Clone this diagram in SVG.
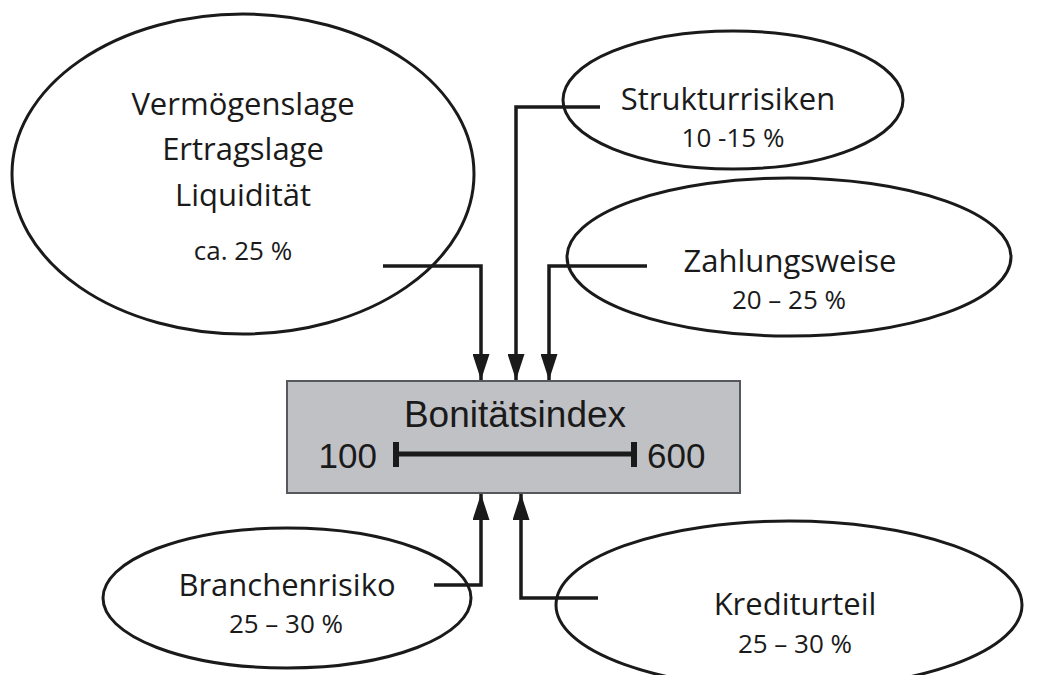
<svg xmlns="http://www.w3.org/2000/svg" width="1040" height="675" viewBox="0 0 1040 675">
<defs>
<marker id="arr" viewBox="0 0 26 17" refX="26" refY="8.5" markerWidth="26" markerHeight="17" markerUnits="userSpaceOnUse" orient="auto">
<path d="M0,0 L26,8.5 L0,17 Z" fill="#1a1a1a"/>
</marker>
<style>
.ell{fill:#fff;stroke:#1a1a1a;stroke-width:3}
.t{font-family:"Open Sans","Liberation Sans",sans-serif;fill:#1a1a1a;text-anchor:middle}
.big{font-size:31px}
.sm{font-size:26px}
.con{fill:none;stroke:#1a1a1a;stroke-width:3.5}
.box{fill:#c0c1c5;stroke:#55585c;stroke-width:2}
.bt{font-family:"Liberation Sans",Arial,sans-serif;fill:#1a1a1a}
</style>
</defs>
<rect width="1040" height="675" fill="#fff"/>
<g id="node-vermoegen">
<ellipse class="ell" cx="243" cy="174" rx="231" ry="160"/>
<text class="t big" x="243" y="115">Vermögenslage</text>
<text class="t big" x="243" y="160">Ertragslage</text>
<text class="t big" x="243" y="206">Liquidität</text>
<text class="t sm" x="243" y="260">ca. 25 %</text>
</g>
<g id="node-struktur">
<ellipse class="ell" cx="733" cy="100" rx="170" ry="69"/>
<text class="t big" x="728" y="110">Strukturrisiken</text>
<text class="t sm" x="733" y="147">10 -15 %</text>
</g>
<g id="node-zahlung">
<ellipse class="ell" cx="789" cy="257" rx="222" ry="79"/>
<text class="t big" x="790" y="272">Zahlungsweise</text>
<text class="t sm" x="789" y="309">20 – 25 %</text>
</g>
<g id="node-branche">
<ellipse class="ell" cx="287" cy="598" rx="184" ry="70"/>
<text class="t big" x="287" y="596">Branchenrisiko</text>
<text class="t sm" x="286" y="633">25 – 30 %</text>
</g>
<g id="node-kredit">
<ellipse class="ell" cx="789" cy="605" rx="233" ry="84"/>
<text class="t big" x="795" y="615">Krediturteil</text>
<text class="t sm" x="795" y="653">25 – 30 %</text>
</g>
<g id="node-index">
<rect class="box" x="287" y="381" width="453" height="112"/>
<text class="bt" x="515" y="427" font-size="37" text-anchor="middle">Bonitätsindex</text>
<text class="bt" x="377" y="468" font-size="35" text-anchor="end">100</text>
<text class="bt" x="647" y="468" font-size="35">600</text>
<line x1="396" y1="454" x2="635" y2="454" stroke="#1a1a1a" stroke-width="5"/>
<rect x="393" y="442" width="6" height="25" fill="#1a1a1a"/>
<rect x="631" y="442" width="6" height="25" fill="#1a1a1a"/>
</g>
<g id="connectors">
<polyline class="con" points="383,266 481,266 481,380" marker-end="url(#arr)"/>
<polyline class="con" points="600,107 516,107 516,380" marker-end="url(#arr)"/>
<polyline class="con" points="647,266 549,266 549,380" marker-end="url(#arr)"/>
<polyline class="con" points="434,585 481,585 481,494" marker-end="url(#arr)"/>
<polyline class="con" points="598,598 521,598 521,494" marker-end="url(#arr)"/>
</g>
</svg>
